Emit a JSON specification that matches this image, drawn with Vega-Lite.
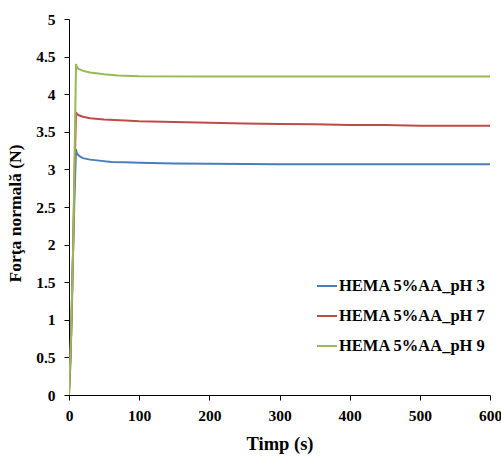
{
  "$schema": "https://vega.github.io/schema/vega-lite/v6.json",
  "width": 421,
  "height": 376,
  "autosize": {"type": "none"},
  "padding": {"left": 69, "top": 19, "right": 11, "bottom": 61},
  "background": "white",
  "config": {
    "view": {"stroke": null},
    "font": "Liberation Serif"
  },
  "data": {
    "values": [
      {"t": 0, "f": 0.05, "s": "HEMA 5%AA_pH 3"},
      {"t": 2, "f": 0.4, "s": "HEMA 5%AA_pH 3"},
      {"t": 4, "f": 1.1, "s": "HEMA 5%AA_pH 3"},
      {"t": 6, "f": 2.0, "s": "HEMA 5%AA_pH 3"},
      {"t": 8, "f": 2.7, "s": "HEMA 5%AA_pH 3"},
      {"t": 10, "f": 3.27, "s": "HEMA 5%AA_pH 3"},
      {"t": 11, "f": 3.22, "s": "HEMA 5%AA_pH 3"},
      {"t": 13, "f": 3.19, "s": "HEMA 5%AA_pH 3"},
      {"t": 16, "f": 3.17, "s": "HEMA 5%AA_pH 3"},
      {"t": 20, "f": 3.15, "s": "HEMA 5%AA_pH 3"},
      {"t": 30, "f": 3.13, "s": "HEMA 5%AA_pH 3"},
      {"t": 40, "f": 3.12, "s": "HEMA 5%AA_pH 3"},
      {"t": 60, "f": 3.1, "s": "HEMA 5%AA_pH 3"},
      {"t": 80, "f": 3.095, "s": "HEMA 5%AA_pH 3"},
      {"t": 100, "f": 3.09, "s": "HEMA 5%AA_pH 3"},
      {"t": 150, "f": 3.08, "s": "HEMA 5%AA_pH 3"},
      {"t": 200, "f": 3.075, "s": "HEMA 5%AA_pH 3"},
      {"t": 300, "f": 3.07, "s": "HEMA 5%AA_pH 3"},
      {"t": 400, "f": 3.07, "s": "HEMA 5%AA_pH 3"},
      {"t": 500, "f": 3.07, "s": "HEMA 5%AA_pH 3"},
      {"t": 600, "f": 3.07, "s": "HEMA 5%AA_pH 3"},
      {"t": 0, "f": 0.0, "s": "HEMA 5%AA_pH 7"},
      {"t": 3, "f": 0.8, "s": "HEMA 5%AA_pH 7"},
      {"t": 6, "f": 2.0, "s": "HEMA 5%AA_pH 7"},
      {"t": 8, "f": 3.0, "s": "HEMA 5%AA_pH 7"},
      {"t": 10, "f": 3.76, "s": "HEMA 5%AA_pH 7"},
      {"t": 11, "f": 3.74, "s": "HEMA 5%AA_pH 7"},
      {"t": 14, "f": 3.72, "s": "HEMA 5%AA_pH 7"},
      {"t": 20, "f": 3.7, "s": "HEMA 5%AA_pH 7"},
      {"t": 30, "f": 3.68, "s": "HEMA 5%AA_pH 7"},
      {"t": 50, "f": 3.665, "s": "HEMA 5%AA_pH 7"},
      {"t": 80, "f": 3.65, "s": "HEMA 5%AA_pH 7"},
      {"t": 100, "f": 3.64, "s": "HEMA 5%AA_pH 7"},
      {"t": 150, "f": 3.63, "s": "HEMA 5%AA_pH 7"},
      {"t": 200, "f": 3.62, "s": "HEMA 5%AA_pH 7"},
      {"t": 250, "f": 3.61, "s": "HEMA 5%AA_pH 7"},
      {"t": 300, "f": 3.605, "s": "HEMA 5%AA_pH 7"},
      {"t": 350, "f": 3.6, "s": "HEMA 5%AA_pH 7"},
      {"t": 400, "f": 3.59, "s": "HEMA 5%AA_pH 7"},
      {"t": 450, "f": 3.59, "s": "HEMA 5%AA_pH 7"},
      {"t": 500, "f": 3.58, "s": "HEMA 5%AA_pH 7"},
      {"t": 600, "f": 3.58, "s": "HEMA 5%AA_pH 7"},
      {"t": 0, "f": 0.0, "s": "HEMA 5%AA_pH 9"},
      {"t": 3, "f": 0.8, "s": "HEMA 5%AA_pH 9"},
      {"t": 6, "f": 2.0, "s": "HEMA 5%AA_pH 9"},
      {"t": 8, "f": 3.2, "s": "HEMA 5%AA_pH 9"},
      {"t": 10, "f": 4.4, "s": "HEMA 5%AA_pH 9"},
      {"t": 11, "f": 4.37, "s": "HEMA 5%AA_pH 9"},
      {"t": 13, "f": 4.34, "s": "HEMA 5%AA_pH 9"},
      {"t": 20, "f": 4.31, "s": "HEMA 5%AA_pH 9"},
      {"t": 30, "f": 4.29, "s": "HEMA 5%AA_pH 9"},
      {"t": 50, "f": 4.265, "s": "HEMA 5%AA_pH 9"},
      {"t": 70, "f": 4.25, "s": "HEMA 5%AA_pH 9"},
      {"t": 100, "f": 4.24, "s": "HEMA 5%AA_pH 9"},
      {"t": 200, "f": 4.235, "s": "HEMA 5%AA_pH 9"},
      {"t": 300, "f": 4.235, "s": "HEMA 5%AA_pH 9"},
      {"t": 400, "f": 4.235, "s": "HEMA 5%AA_pH 9"},
      {"t": 500, "f": 4.235, "s": "HEMA 5%AA_pH 9"},
      {"t": 600, "f": 4.235, "s": "HEMA 5%AA_pH 9"}
    ]
  },
  "mark": {"type": "line", "strokeWidth": 2, "clip": true},
  "encoding": {
    "x": {
      "field": "t", "type": "quantitative",
      "scale": {"domain": [0, 600], "nice": false},
      "axis": {
        "title": "Timp (s)", "values": [0, 100, 200, 300, 400, 500, 600],
        "grid": false, "domainColor": "#000", "tickColor": "#000", "tickSize": 5,
        "labelFont": "Liberation Serif", "labelFontWeight": "bold", "labelFontSize": 15.5,
        "labelColor": "#000", "labelPadding": 8, "labelFlush": false,
        "titleFont": "Liberation Serif", "titleFontWeight": "bold", "titleFontSize": 18.5,
        "titleColor": "#000", "titlePadding": 11
      }
    },
    "y": {
      "field": "f", "type": "quantitative",
      "scale": {"domain": [0, 5], "nice": false},
      "axis": {
        "title": "Forţa normală (N)", "values": [0, 0.5, 1, 1.5, 2, 2.5, 3, 3.5, 4, 4.5, 5],
        "format": "~g",
        "grid": false, "domainColor": "#000", "tickColor": "#000", "tickSize": 5,
        "labelFont": "Liberation Serif", "labelFontWeight": "bold", "labelFontSize": 15.5,
        "labelColor": "#000", "labelPadding": 9,
        "titleFont": "Liberation Serif", "titleFontWeight": "bold", "titleFontSize": 17.5,
        "titleColor": "#000", "titlePadding": 11, "titleY": 194
      }
    },
    "color": {
      "field": "s", "type": "nominal",
      "scale": {
        "domain": ["HEMA 5%AA_pH 3", "HEMA 5%AA_pH 7", "HEMA 5%AA_pH 9"],
        "range": ["#4a7ebb", "#be4b48", "#98b954"]
      },
      "legend": {
        "title": null, "orient": "none", "legendX": 247, "legendY": 256,
        "symbolType": "stroke", "symbolSize": 400, "symbolStrokeWidth": 2,
        "labelFont": "Liberation Serif", "labelFontWeight": "bold", "labelFontSize": 16.5,
        "labelColor": "#000", "rowPadding": 10, "labelOffset": 1
      }
    }
  }
}
